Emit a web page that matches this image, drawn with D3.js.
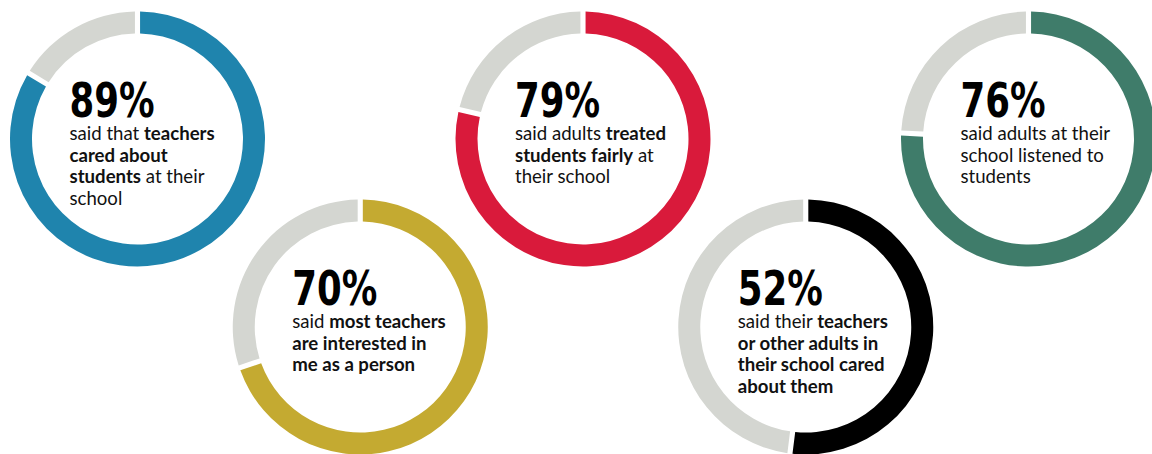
<!DOCTYPE html>
<html>
<head>
<meta charset="utf-8">
<script src="https://cdn.jsdelivr.net/npm/d3@7"></script>
<style>
  html, body { margin: 0; padding: 0; background: #fff; overflow: hidden; }
  .pct { font-family: "Liberation Sans Narrow", "DejaVu Sans Condensed", sans-serif; font-weight: bold; }
  .body { font-family: Lato, "Open Sans", sans-serif; fill: #111; }
</style>
</head>
<body>
<div id="chart"></div>
<script>
'use strict';

// labels as printed
var labels = ['89%', '70%', '79%', '52%', '76%'];
var shares = [84, 70, 79, 52, 76];
var colors = ['#1f84ad', '#c4aa31', '#d91a3b', '#000000', '#3f7c6a'];
// each caption line: [text, bold]
var captions = [
    [[['said that ', false], ['teachers', true]],
     [['cared about', true]],
     [['students', true], [' at their', false]],
     [['school', false]]],
    [[['said ', false], ['most teachers', true]],
     [['are interested in', true]],
     [['me as a person', true]]],
    [[['said adults ', false], ['treated', true]],
     [['students fairly', true], [' at', false]],
     [['their school', false]]],
    [[['said their ', false], ['teachers', true]],
     [['or other adults in', true]],
     [['their school cared', true]],
     [['about them', true]]],
    [[['said adults at their', false]],
     [['school listened to', false]],
     [['students', false]]]
];

var W = 1152, H = 454;
var outerR = 127.5, innerR = 105.5;

// ring centres: alternating top / bottom row
var cx = d3.scaleLinear().domain([0, 4]).range([137.5, 1028.5]);
var cy = function (i) { return i % 2 === 0 ? 139 : 327; };

var svg = d3.select('#chart').append('svg')
    .attr('width', W)
    .attr('height', H);

var pie = d3.pie()
    .sort(null)
    .value(function (d) { return d; })
    .padAngle(0.031);

var arc = d3.arc()
    .innerRadius(innerR)
    .outerRadius(outerR);

for (var i = 0; i < labels.length; i++) {
    var g = svg.append('g')
        .attr('transform', 'translate(' + cx(i) + ',' + cy(i) + ')');

    g.selectAll('path')
        .data(pie([shares[i], 100 - shares[i]]))
        .enter().append('path')
        .attr('d', arc)
        .attr('fill', function (d, k) { return k === 0 ? colors[i] : '#d4d6d1'; });

    var tx = -68;
    g.append('text')
        .attr('class', 'pct')
        .attr('x', tx)
        .attr('y', -22)
        .attr('font-size', 48)
        .attr('textLength', 85)
        .attr('lengthAdjust', 'spacingAndGlyphs')
        .text(labels[i]);

    var lines = captions[i];
    for (var j = 0; j < lines.length; j++) {
        var t = g.append('text')
            .attr('class', 'body')
            .attr('x', tx)
            .attr('y', 1 + j * 21.5)
            .attr('font-size', 18.6);
        lines[j].forEach(function (seg) {
            t.append('tspan')
                .attr('font-weight', seg[1] ? 'bold' : 'normal')
                .text(seg[0]);
        });
    }
}
</script>
</body>
</html>
